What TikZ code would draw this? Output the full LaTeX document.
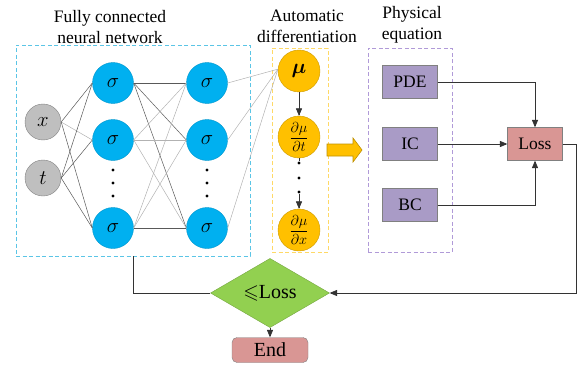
\documentclass[tikz,border=0pt]{standalone}
\usepackage{amssymb}
\usepackage{amsmath}
\usepackage{bm}
\usepackage{fontspec}
\setmainfont{Liberation Serif}
\usepackage{tikz}
\usetikzlibrary{shapes.geometric, arrows}
\definecolor{sigblue}{HTML}{00B0F0}
\definecolor{ingray}{HTML}{BFBFBF}
\definecolor{gradyellow}{HTML}{FFC000}
\definecolor{eqpurple}{HTML}{A99BC6}
\definecolor{losspink}{HTML}{D99694}
\definecolor{checkgreen}{HTML}{92D050}
\definecolor{nnframe}{HTML}{5BC5E6}
\definecolor{adframe}{HTML}{FFD966}
\definecolor{peframe}{HTML}{B09AD8}
\tikzstyle{inp} = [circle, minimum size=36pt, inner sep=0pt, fill=ingray, draw=gray, font=\fontsize{22}{26}\selectfont]
\tikzstyle{neuron} = [circle, minimum size=41pt, inner sep=0pt, fill=sigblue, draw=sigblue!85!black, font=\fontsize{22}{26}\selectfont]
\tikzstyle{grad} = [circle, minimum size=42pt, inner sep=0pt, fill=gradyellow, draw=gradyellow!80!black, font=\fontsize{15}{18}\selectfont]
\tikzstyle{eqbox} = [rectangle, minimum width=55pt, minimum height=33pt, inner sep=0pt, fill=eqpurple, draw=gray]
\tikzstyle{frame} = [rectangle, inner sep=0pt, dash pattern=on 4pt off 2.5pt, line width=0.8pt]
\tikzstyle{dotnode} = [circle, minimum size=3.2pt, inner sep=0pt, fill=black]
\tikzstyle{title} = [align=center, font=\fontsize{17.5}{21}\selectfont]
\tikzstyle{arrow} = [->, >=triangle 45, line width=0.7pt, draw=black!80]
\tikzstyle{wire} = [line width=0.5pt, draw=black!65]
\tikzstyle{faint} = [line width=0.5pt, draw=black!30]

\begin{document}
\begin{tikzpicture}[x=1pt, y=-1pt, font=\fontsize{17.5}{21}\selectfont]
\useasboundingbox (0,0) rectangle (578,369);
% frames and titles
\node (nnbox) [frame, draw=nnframe, minimum width=234pt, minimum height=211pt] at (133,150.5) {};
\node (adbox) [frame, draw=adframe, minimum width=56pt, minimum height=204pt] at (300,150) {};
\node (pebox) [frame, draw=peframe, minimum width=84pt, minimum height=204pt] at (410,150) {};
\node (nntitle) [title] at (110,27) {Fully connected\\neural network};
\node (adtitle) [title] at (307,26) {Automatic\\differentiation};
\node (petitle) [title] at (412,25) {Physical\\equation};

% network
\node (x) [inp] at (43,122) {$x$};
\node (t) [inp] at (43,178) {$t$};
\node (a1) [neuron] at (113,83) {$\sigma$};
\node (a2) [neuron] at (113,140) {$\sigma$};
\node (a3) [neuron] at (113,228) {$\sigma$};
\node (b1) [neuron] at (207,83) {$\sigma$};
\node (b2) [neuron] at (207,140) {$\sigma$};
\node (b3) [neuron] at (207,228) {$\sigma$};
\foreach \yy in {170,183,196} {
    \node [dotnode] at (113,\yy) {};
    \node [dotnode] at (207,\yy) {};
}
\foreach \s/\d/\st in {x/a1/wire, x/a2/faint, x/a3/wire, t/a1/wire, t/a2/wire, t/a3/wire,
                      a1/b1/wire, a1/b2/wire, a1/b3/wire, a2/b1/faint, a2/b2/faint, a2/b3/faint,
                      a3/b1/faint, a3/b2/faint, a3/b3/wire}
    \draw [\st] (\s.east) -- (\d.west);

% automatic differentiation
\node (mu) [grad, font=\fontsize{22}{26}\selectfont] at (299,71) {$\bm{\mu}$};
\node (dt) [grad] at (299,137) {$\dfrac{\partial\mu}{\partial t}$};
\node (dx) [grad] at (299,230) {$\dfrac{\partial\mu}{\partial x}$};
\node (d1) [dotnode] at (299,163) {};
\node (d2) [dotnode] at (299,178) {};
\node (d3) [dotnode] at (299,192) {};
\foreach \b in {b1,b2,b3}
    \draw [faint] (\b.east) -- (mu.175);
\draw [arrow] (mu) -- (dt);
\draw [line width=0.7pt, draw=black!80] (dt) -- (d1);
\draw [arrow] (d3) -- (dx);
% fat arrow to the equations
\draw [fill=gradyellow, draw=gradyellow!75!black, line width=0.6pt]
    (327,144) -- (353,144) -- (353,138) -- (362,150) -- (353,162) -- (353,156) -- (327,156) -- cycle;

% physical equation
\node (pde) [eqbox] at (410,82) {PDE};
\node (ic) [eqbox] at (410,144) {IC};
\node (bc) [eqbox] at (410,205) {BC};
\node (loss) [rectangle, minimum width=55pt, minimum height=33pt, fill=losspink, draw=gray] at (535,144) {Loss};
\draw [arrow] (pde.east) -| (loss.north);
\draw [arrow] (ic.east) -- (loss.west);
\draw [arrow] (bc.east) -| (loss.south);

% check and end
\node (check) [diamond, minimum width=119pt, minimum height=47pt, inner sep=0pt, fill=checkgreen, draw=checkgreen!80!black, font=\fontsize{20}{24}\selectfont] at (270,293) {$\leqslant$Loss};
\node (end) [rectangle, rounded corners=5pt, minimum width=76pt, minimum height=25pt, fill=losspink, draw=gray, font=\fontsize{20}{24}\selectfont] at (270,350) {End};
\draw [arrow] (loss.east) -- ++(14,0) |- (check.east);
\draw [line width=0.7pt, draw=black!80] (nnbox.south) |- (check.west);
\draw [arrow] (check.south) -- (end.north);
\end{tikzpicture}
\end{document}
